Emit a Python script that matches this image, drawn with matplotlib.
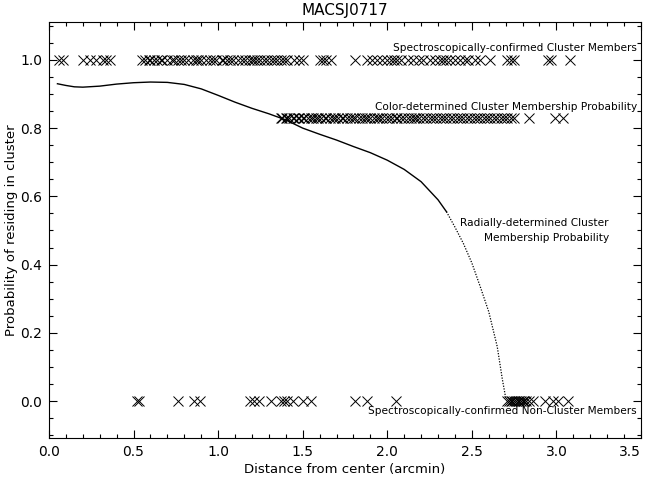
"""
MACSJ0717: cluster membership probability vs distance from center.
"""
import numpy as np
import matplotlib.pyplot as plt
from matplotlib.ticker import MultipleLocator

# spectroscopically-confirmed members (y = 1)
spec_mem_x = [0.06, 0.08, 0.20, 0.24, 0.28, 0.32, 0.34, 0.36,
              0.55, 0.57, 0.59, 0.60, 0.62, 0.64, 0.66, 0.67, 0.70, 0.73, 0.74,
              0.76, 0.78, 0.80, 0.82, 0.85, 0.87, 0.88, 0.90, 0.93, 0.95, 0.97,
              0.99, 1.02, 1.03, 1.05, 1.07, 1.09, 1.12, 1.14, 1.16, 1.18, 1.20,
              1.21, 1.23, 1.25, 1.27, 1.29, 1.31, 1.33, 1.35, 1.37, 1.39, 1.41,
              1.45, 1.48, 1.50, 1.60, 1.62, 1.64, 1.67, 1.81,
              1.88, 1.91, 1.94, 1.97, 2.00, 2.02, 2.04, 2.06, 2.08, 2.12, 2.15,
              2.19, 2.21, 2.25, 2.28, 2.31, 2.33, 2.35, 2.37, 2.40, 2.43, 2.46,
              2.48, 2.52, 2.55, 2.61, 2.71, 2.73, 2.75, 2.95, 2.97, 3.08]
spec_mem_p = 1.0

# color-determined membership probability
color_x = [1.37, 1.38, 1.40, 1.41, 1.42, 1.44, 1.45, 1.47, 1.48, 1.50, 1.51,
           1.53, 1.55, 1.56, 1.58, 1.59, 1.61, 1.63, 1.64, 1.66, 1.68, 1.69,
           1.71, 1.73, 1.74, 1.76, 1.78, 1.80, 1.81, 1.83, 1.85, 1.87, 1.88,
           1.90, 1.92, 1.94, 1.95, 1.97, 1.99, 2.01, 2.03, 2.05, 2.06, 2.08,
           2.10, 2.12, 2.14, 2.16, 2.17, 2.19, 2.21, 2.23, 2.25, 2.27, 2.29,
           2.31, 2.33, 2.35, 2.37, 2.39, 2.41, 2.43, 2.45, 2.47, 2.49, 2.51,
           2.53, 2.55, 2.57, 2.59, 2.61, 2.63, 2.65, 2.67, 2.69, 2.71, 2.73,
           2.75, 2.84, 2.99, 3.04]
color_p = 0.83

# spectroscopically-confirmed non-members (y = 0)
spec_non_x = [0.52, 0.53, 0.76, 0.86, 0.89, 1.19, 1.21, 1.24, 1.31, 1.37,
              1.39, 1.41, 1.44, 1.50, 1.55, 1.81, 1.88, 2.05,
              2.71, 2.72, 2.73, 2.74, 2.75, 2.76, 2.77, 2.78, 2.79, 2.80,
              2.81, 2.82, 2.84, 2.86, 2.93, 2.98, 3.01, 3.07]
spec_non_p = 0.0

# radially-determined membership probability curve
rad_x = [0.05, 0.10, 0.15, 0.20, 0.30, 0.40, 0.50, 0.60, 0.70, 0.80, 0.90,
         1.00, 1.10, 1.20, 1.30, 1.40, 1.50, 1.60, 1.70, 1.80, 1.90, 2.00,
         2.10, 2.20, 2.30, 2.35]
rad_p = [0.930, 0.925, 0.921, 0.920, 0.923, 0.929, 0.933, 0.935, 0.934,
         0.928, 0.915, 0.896, 0.876, 0.858, 0.842, 0.824, 0.800, 0.782,
         0.765, 0.746, 0.728, 0.706, 0.679, 0.643, 0.590, 0.555]
rad_tail_x = [2.35, 2.40, 2.45, 2.50, 2.55, 2.60, 2.65, 2.68, 2.70]
rad_tail_p = [0.555, 0.510, 0.462, 0.405, 0.335, 0.262, 0.160, 0.065, 0.010]

fig = plt.figure(figsize=(6.47, 4.83), dpi=100)
ax = fig.add_axes([0.0757, 0.0932, 0.915, 0.8613])

mk = dict(marker="x", color="black", linestyle="none", markersize=7,
          markeredgewidth=0.7)
ax.plot(spec_mem_x, [spec_mem_p] * len(spec_mem_x), **mk)
ax.plot(color_x, [color_p] * len(color_x), **mk)
ax.plot(spec_non_x, [spec_non_p] * len(spec_non_x), **mk)
ax.plot(rad_x, rad_p, color="black", lw=1.0)
ax.plot(rad_tail_x, rad_tail_p, color="black", lw=0.9, linestyle=(0, (1, 1.2)))

lab = dict(fontsize=7.6, ha="right", va="center")
ax.text(3.475, 1.035, "Spectroscopically-confirmed Cluster Members", **lab)
ax.text(3.475, 0.862, "Color-determined Cluster Membership Probability", **lab)
ax.text(3.475, -0.03, "Spectroscopically-confirmed Non-Cluster Members", **lab)
ax.text(3.31, 0.523, "Radially-determined Cluster", **lab)
ax.text(3.31, 0.478, "Membership Probability", **lab)

ax.xaxis.set_major_locator(MultipleLocator(0.5))
ax.xaxis.set_minor_locator(MultipleLocator(0.1))
ax.yaxis.set_major_locator(MultipleLocator(0.2))
ax.yaxis.set_minor_locator(MultipleLocator(0.05))
ax.tick_params(which="both", direction="in", top=True, right=True, width=0.8,
               labelsize=10, pad=5)
ax.tick_params(which="major", length=6)
ax.tick_params(which="minor", length=3)
ax.set_xticks(ax.get_xticks())
ax.set_xticklabels([f"{v:.1f}" for v in ax.get_xticks()])
ax.set_yticks(ax.get_yticks())
ax.set_yticklabels([f"{v:.1f}" for v in ax.get_yticks()])
ax.set_xlim(0, 3.5)
ax.set_ylim(-0.108, 1.111)
ax.get_xticklabels()[-1].set_horizontalalignment("right")
for s in ax.spines.values():
    s.set_linewidth(0.8)

ax.set_title("MACSJ0717", fontsize=11, pad=5)
ax.set_xlabel("Distance from center (arcmin)", fontsize=9.5, labelpad=3)
ax.set_ylabel("Probability of residing in cluster", fontsize=9.5)
ax.yaxis.set_label_coords(-0.052, 0.5)

fig.savefig("out.png", dpi=100)
